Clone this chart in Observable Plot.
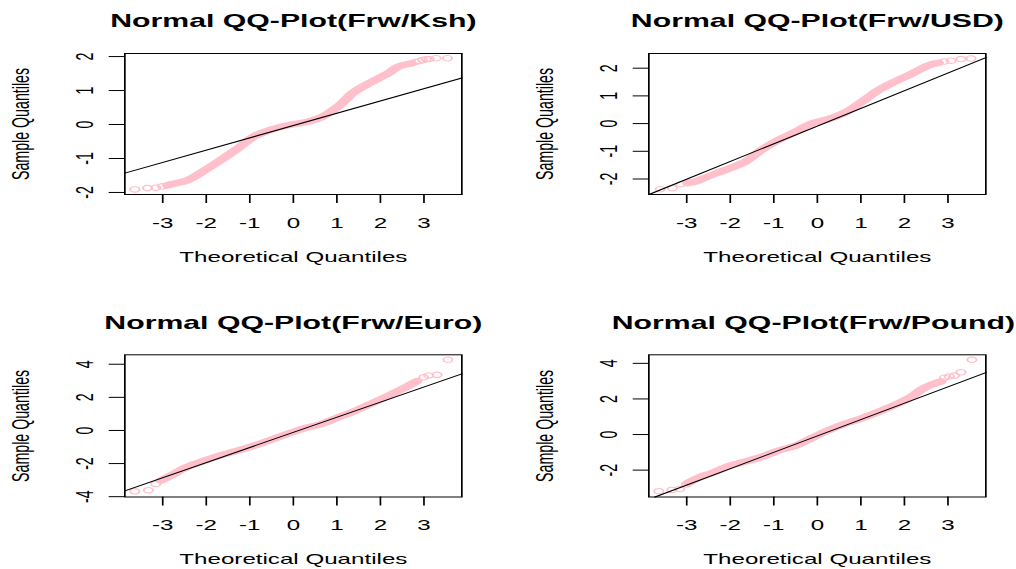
<!DOCTYPE html>
<html><head><meta charset="utf-8">
<script src="https://cdn.jsdelivr.net/npm/d3@7"></script>
<script src="https://cdn.jsdelivr.net/npm/@observablehq/plot@0.6"></script>
<style>
html,body{margin:0;padding:0;background:#fff;}
#chart{position:relative;width:1016px;height:569px;overflow:hidden;background:#fff;}
#chart svg{position:absolute;}
</style></head><body><div id="chart"></div>
<script>
// ---- text ----
const panelTitles = ["Normal QQ-Plot(Frw/Ksh)", "Normal QQ-Plot(Frw/USD)", "Normal QQ-Plot(Frw/Euro)", "Normal QQ-Plot(Frw/Pound)"];
const xLabel = "Theoretical Quantiles";
const yLabel = "Sample Quantiles";
const xTickValues = [-3, -2, -1, 0, 1, 2, 3];
const kshYTicks = [-2, -1, 0, 1, 2];
const usdYTicks = [-2, -1, 0, 1, 2];
const euroYTicks = [-4, -2, 0, 2, 4];
const poundYTicks = [-2, 0, 2, 4];

// ---- Frw/Ksh ----
const kshBandTheo   = [-2.89,-2.81,-2.43,-2.05,-1.66,-1.28,-0.90,-0.51,-0.13,0.25,0.64,1.02,1.40,1.79,2.17,2.40,2.71];
const kshBandSample = [-1.79,-1.76,-1.64,-1.36,-1.04,-0.71,-0.35,-0.15,-0.02,0.06,0.21,0.52,0.96,1.25,1.50,1.70,1.80];
const kshTailTheo   = [-3.64,-3.35,-3.16,-3.01, 2.80,2.90,2.97,3.05,3.12,3.28,3.54];
const kshTailSample = [-1.91,-1.87,-1.86,-1.82, 1.84,1.87,1.90,1.92,1.93,1.95,1.95];

// ---- Frw/USD ----
const usdBandTheo   = [-2.93,-2.81,-2.43,-2.05,-1.66,-1.28,-0.90,-0.51,-0.13,0.25,0.64,1.02,1.40,1.79,2.17,2.55,2.78];
const usdBandSample = [-2.13,-2.10,-1.86,-1.64,-1.38,-0.95,-0.60,-0.30,0.00,0.16,0.40,0.78,1.20,1.52,1.80,2.10,2.19];
const usdTailTheo   = [-3.61,-3.33,-3.14,-2.98, 2.91,3.07,3.30,3.53];
const usdTailSample = [-2.37,-2.33,-2.19,-2.15, 2.24,2.27,2.33,2.35];

// ---- Frw/Euro ----
const euroBandTheo   = [-3.04,-2.82,-2.43,-2.05,-1.66,-1.28,-0.90,-0.51,-0.13,0.25,0.62,1.00,1.38,1.77,2.15,2.46,2.69,2.84];
const euroBandSample = [-3.02,-2.74,-2.19,-1.83,-1.49,-1.22,-0.92,-0.56,-0.20,0.13,0.37,0.76,1.14,1.60,2.05,2.45,2.76,2.98];
const euroTailTheo   = [-3.64,-3.33,-3.16, 2.99,3.11,3.30,3.55];
const euroTailSample = [-3.68,-3.61,-3.23, 3.21,3.32,3.36,4.27];

// ---- Frw/Pound ----
const poundBandTheo   = [-2.97,-2.66,-2.43,-2.05,-1.66,-1.28,-0.90,-0.52,-0.13,0.17,0.62,1.00,1.38,1.77,2.15,2.38,2.61,2.84];
const poundBandSample = [-2.72,-2.36,-2.17,-1.79,-1.52,-1.26,-0.91,-0.64,-0.20,0.15,0.59,0.89,1.25,1.65,2.10,2.51,2.79,2.99];
const poundTailTheo   = [-3.64,-3.34,-3.16,-3.01, 2.92,3.03,3.15,3.30,3.55];
const poundTailSample = [-3.18,-3.11,-3.06,-2.81, 3.19,3.26,3.31,3.50,4.20];

// ---- reference (qqline) intercepts and slopes ----
const lineIntercepts = [-0.03, -0.09, -0.115, -0.08];
const lineSlopes     = [0.362, 0.639, 0.913, 0.92];

// ---- axis domains ----
const xDomain = [-3.87, 3.87];
const yDomains = [[-2.06, 2.09], [-2.56, 2.53], [-4.02, 4.57], [-3.51, 4.48]];

// ---- layout (screen px) ----
const STRETCH = 1.70;
const FONT = "'Liberation Sans', Arial, Helvetica, sans-serif";
const PINK = "#FFC0CB";
const layout = [
  {left: 0,   top: 0,   width: 508, height: 284, boxL: 124, boxR: 461, boxT: 53,    boxB: 194,   titleShift: 0},
  {left: 508, top: 0,   width: 508, height: 284, boxL: 648, boxR: 985, boxT: 53,    boxB: 194,   titleShift: 0},
  {left: 0,   top: 284, width: 508, height: 285, boxL: 124, boxR: 461, boxT: 354.3, boxB: 496.5, titleShift: 0},
  {left: 508, top: 284, width: 508, height: 285, boxL: 648, boxR: 985, boxT: 354.3, boxB: 496.5, titleShift: -4}
];

const bandTheo = [kshBandTheo, usdBandTheo, euroBandTheo, poundBandTheo];
const bandSample = [kshBandSample, usdBandSample, euroBandSample, poundBandSample];
const tailTheo = [kshTailTheo, usdTailTheo, euroTailTheo, poundTailTheo];
const tailSample = [kshTailSample, usdTailSample, euroTailSample, poundTailSample];
const yTicks = [kshYTicks, usdYTicks, euroYTicks, poundYTicks];

const chart = document.getElementById("chart");

function drawPanel(i) {
  const L = layout[i];
  const s = STRETCH;
  const W = L.width / s;
  const mL = (L.boxL - L.left) / s;
  const mR = (L.left + L.width - L.boxR) / s;
  const mT = L.boxT - L.top;
  const mB = L.top + L.height - L.boxB;
  const band = bandTheo[i].map((t, j) => ({t, q: bandSample[i][j]}));
  const tail = tailTheo[i].map((t, j) => ({t, q: tailSample[i][j]}));
  const a = lineIntercepts[i], b = lineSlopes[i];
  const yd = yDomains[i];
  const t0 = Math.max(xDomain[0], (yd[0] - a) / b);
  const t1 = Math.min(xDomain[1], (yd[1] - a) / b);
  const ref = [t0, t1].map(t => ({t, q: a + b * t}));

  const svg = Plot.plot({
    width: W,
    height: L.height,
    marginLeft: mL,
    marginRight: mR,
    marginTop: mT,
    marginBottom: mB,
    x: {domain: xDomain},
    y: {domain: yd},
    style: {fontFamily: FONT, background: "transparent", color: "black"},
    marks: [
      Plot.line(band, {x: "t", y: "q", stroke: PINK, strokeWidth: 6.5, curve: "catmull-rom", strokeLinecap: "round", strokeLinejoin: "round"}),
      Plot.dot(tail, {x: "t", y: "q", r: 2.7, stroke: PINK, strokeWidth: 1.1, fill: "none"}),
      Plot.line(ref, {x: "t", y: "q", stroke: "black", strokeWidth: 1}),
      Plot.frame({stroke: "black", strokeWidth: 1}),
      Plot.axisX({ticks: xTickValues, tickSize: 9, tickFormat: () => "", label: null, stroke: "black"}),
      Plot.axisY({ticks: yTicks[i], tickSize: 9, tickFormat: () => "", label: null, stroke: "black"}),
      Plot.text(xTickValues, {x: d => d, text: d => String(d), frameAnchor: "bottom", dy: 28.5, textAnchor: "middle", lineAnchor: "middle", fontSize: 14.2, fill: "black"}),
      Plot.text(yTicks[i], {y: d => d, text: d => String(d), frameAnchor: "left", dx: -23.5, rotate: -90, textAnchor: "middle", lineAnchor: "middle", fontSize: 14.2, fill: "black"}),
      Plot.text([xLabel], {text: d => d, frameAnchor: "bottom", dy: 62.5, textAnchor: "middle", lineAnchor: "middle", fontSize: 14.2, fill: "black"}),
      Plot.text([yLabel], {text: d => d, frameAnchor: "left", dx: -61, rotate: -90, textAnchor: "middle", lineAnchor: "middle", fontSize: 14.2, fill: "black"}),
      Plot.text([panelTitles[i]], {text: d => d, frameAnchor: "top", dx: L.titleShift / s, dy: -32, textAnchor: "middle", lineAnchor: "middle", fontSize: 17.8, fontWeight: "bold", fill: "black"})
    ]
  });
  svg.setAttribute("width", L.width);
  svg.setAttribute("height", L.height);
  svg.setAttribute("viewBox", `0 0 ${W} ${L.height}`);
  svg.setAttribute("preserveAspectRatio", "none");
  svg.style.width = L.width + "px";
  svg.style.height = L.height + "px";
  svg.style.maxWidth = "none";
  svg.style.left = L.left + "px";
  svg.style.top = L.top + "px";
  svg.style.overflow = "hidden";
  chart.appendChild(svg);
}

for (let i = 0; i < 4; i++) drawPanel(i);
</script>
</body></html>
